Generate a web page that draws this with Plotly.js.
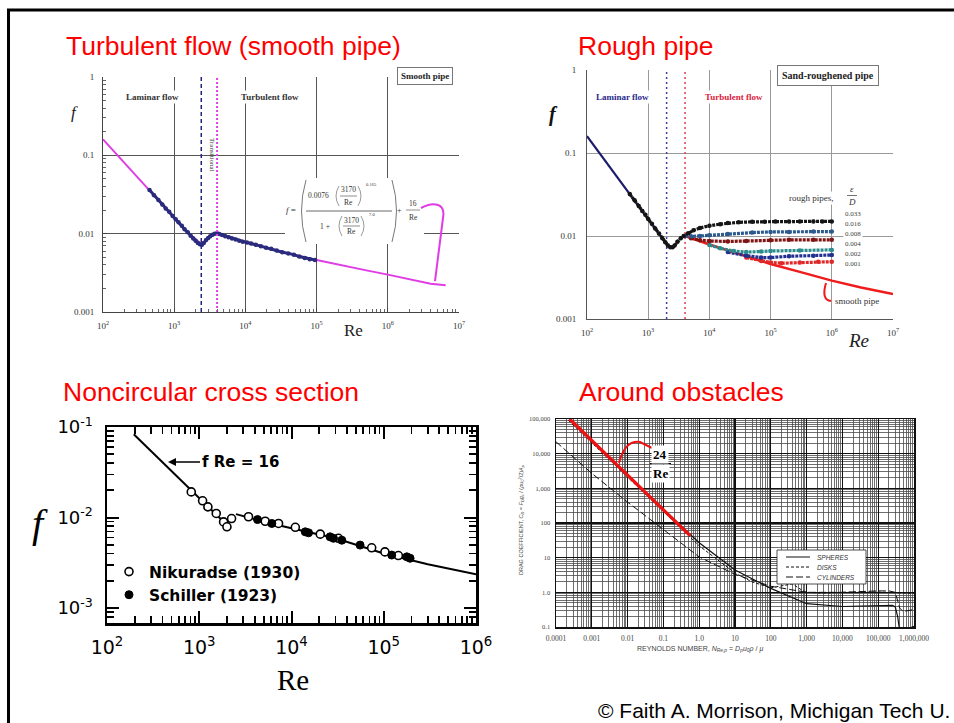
<!DOCTYPE html>
<html><head><meta charset="utf-8">
<script src="https://cdn.plot.ly/plotly-3.0.1.min.js"></script>
<style>html,body{margin:0;padding:0;background:#fff}#chart{width:954px;height:723px}</style>
</head><body><div id="chart"></div>
<script>
const W = 954, H = 723;
const px = x => x / W;
const py = y => 1 - y / H;

// ---------- Panel 1: Turbulent flow (smooth pipe) ----------
const p1CurveRe = [100,200,500,1000,1500,2000,2300,2500,2800,3200,3600,4000,5000,7000,10000,20000,50000,100000,200000,500000,1000000,2000000,4000000,6500000];
const p1CurveF  = [0.16,0.08,0.032,0.016,0.0107,0.0085,0.0076,0.0075,0.0082,0.0093,0.0099,0.0100,0.0094,0.0085,0.0078,0.0066,0.0053,0.0046,0.0040,0.0034,0.0030,0.0026,0.0023,0.0022];
const p1DataRe = [450,520,600,680,760,850,950,1050,1150,1280,1400,1550,1700,1850,2000,2150,2300,2450,2600,2800,3000,3200,3450,3700,4000,4300,4700,5200,5800,6500,7300,8200,9200,10500,12000,14000,16500,19500,23000,27500,33000,40000,48000,57000,68000,80000,95000];
const p1DataF  = [0.036,0.031,0.027,0.0235,0.021,0.019,0.0168,0.0153,0.014,0.0126,0.0114,0.0104,0.0094,0.0087,0.0081,0.0076,0.0073,0.0072,0.0076,0.0083,0.0088,0.0093,0.0097,0.0100,0.0101,0.0099,0.0096,0.0093,0.0090,0.0087,0.0084,0.0081,0.0079,0.0077,0.0075,0.0072,0.0069,0.0066,0.0064,0.0061,0.0058,0.0056,0.0054,0.0051,0.0049,0.0047,0.0046];
const p1TransitionRe = [2400, 4000];
const p1XTickVals = [1e2,1e3,1e4,1e5,1e6,1e7];
const p1XTickText = ['10<sup>2</sup>','10<sup>3</sup>','10<sup>4</sup>','10<sup>5</sup>','10<sup>6</sup>','10<sup>7</sup>'];
const p1YTickVals = [0.001,0.01,0.1,1];
const p1YTickText = ['0.001','0.01','0.1','1'];

// ---------- Panel 2: Rough pipe ----------
const p2LaminarRe = [100, 2000];
const p2LaminarF  = [0.16, 0.008];
const p2SmoothRe = [4000,10000,30000,100000,300000,1000000,3000000,10000000];
const p2SmoothF  = [0.0100,0.0079,0.0061,0.0046,0.0037,0.0029,0.0024,0.0020];
const p2R033Re = [500,600,700,800,900,1000,1150,1300,1500,1700,1900,2100,2300,2500,2700,3000,3400,3800,4500,5500,7000,10000,15000,20000,30000,50000,80000,120000,200000,300000,500000,700000,1000000];
const p2R033F  = [0.032,0.027,0.023,0.020,0.018,0.016,0.014,0.0123,0.0107,0.0094,0.0084,0.0077,0.0073,0.0073,0.0077,0.0085,0.0094,0.0100,0.0108,0.0117,0.0125,0.0133,0.0139,0.0143,0.0146,0.0148,0.0149,0.0150,0.0150,0.0150,0.0150,0.0150,0.0150];
const p2R016Re = [4000,5000,7000,10000,20000,50000,100000,200000,500000,1000000];
const p2R016F  = [0.0100,0.0099,0.0100,0.0102,0.0106,0.0110,0.0112,0.0112,0.0113,0.0113];
const p2R008Re = [5000,7000,10000,20000,40000,100000,200000,500000,1000000];
const p2R008F  = [0.0094,0.0089,0.0087,0.0086,0.0087,0.0089,0.0090,0.0090,0.0090];
const p2R004Re = [10000,15000,25000,40000,70000,100000,300000,1000000];
const p2R004F  = [0.0078,0.0071,0.0066,0.0064,0.0065,0.0066,0.0067,0.0068];
const p2R002Re = [20000,40000,70000,100000,200000,500000,1000000];
const p2R002F  = [0.0064,0.0058,0.0055,0.0055,0.0057,0.0058,0.0059];
const p2R001Re = [40000,70000,100000,150000,300000,600000,1000000];
const p2R001F  = [0.0055,0.0050,0.0048,0.0047,0.0048,0.0049,0.0049];
const p2TransitionRe = [2000, 4000];
const p2RoughLabels = ['0.033','0.016','0.008','0.004','0.002','0.001'];

// ---------- Panel 3: Noncircular cross section ----------
const p3LaminarRe = [195, 2200];
const p3LaminarF  = [0.083, 0.0075];
const p3TurbRe = [2500,5000,10000,30000,100000,300000,1000000];
const p3TurbF  = [0.0109,0.0090,0.0076,0.0059,0.0040,0.00305,0.00236];
const p3NikRe = [819,1087,1241,1528,1835,1995,2240,3420,5190,7240,11000,20500,32300,74000,103000,144000];
const p3NikF  = [0.0192,0.0153,0.0131,0.0111,0.00895,0.0079,0.00975,0.0102,0.0091,0.0086,0.0078,0.00655,0.0059,0.00463,0.00417,0.0038];
const p3SchRe = [4280,6120,14100,15300,26200,28500,35100,55400,122000,178000,193000];
const p3SchF  = [0.0095,0.0086,0.00695,0.00678,0.00612,0.0059,0.00562,0.00496,0.00385,0.00368,0.00355];
const p3XTickVals = [1e2,1e3,1e4,1e5,1e6];
const p3XTickText = ['10<sup>2</sup>','10<sup>3</sup>','10<sup>4</sup>','10<sup>5</sup>','10<sup>6</sup>'];
const p3YTickVals = [1e-3,1e-2,1e-1];
const p3YTickText = ['10<sup>-3</sup>','10<sup>-2</sup>','10<sup>-1</sup>'];

// ---------- Panel 4: Around obstacles ----------
const p4SphereRe = [0.00024,0.001,0.01,0.1,1,10,100,1000,10000,100000,250000,300000,350000,400000,500000,700000,1000000];
const p4SphereCd = [100000,24000,2400,245,27,4.4,1.3,0.47,0.39,0.42,0.42,0.38,0.2,0.075,0.075,0.09,0.105];
const p4DiskRe = [0.00022,0.001,0.01,0.1,1,10,30,100,200,400,700,1000,3000,10000,100000,300000,1000000];
const p4DiskCd = [92000,20400,2040,205,22,3.6,2.0,1.35,1.5,1.75,1.2,1.0,0.95,1.0,1.02,0.98,0.93];
const p4CylRe = [0.0001,0.001,0.01,0.1,1,10,100,1000,10000,100000,200000,300000,400000,500000,1000000];
const p4CylCd = [22000,2700,400,65,10.5,3.3,1.5,1.0,1.0,1.1,1.1,1.0,0.35,0.28,0.32];
const p4LimitRe = [0.00024,0.556];
const p4LimitCd = [100000,43];
const p4XTickVals = [1e-4,1e-3,1e-2,1e-1,1,10,100,1000,1e4,1e5,1e6];
const p4XTickText = ['0.0001','0.001','0.01','0.1','1.0','10','100','1,000','10,000','100,000','1,000,000'];
const p4YTickVals = [0.1,1,10,100,1000,1e4,1e5];
const p4YTickText = ['0.1','1.0','10','100','1,000','10,000','100,000'];

function minorVals(lo, hi){const v=[];for(let e=lo;e<hi;e++)for(let d=2;d<=9;d++)v.push(d*Math.pow(10,e));return v;}

const serif = 'Liberation Serif, Times New Roman, serif';
const sans = 'Liberation Sans, Arial, sans-serif';

const traces = [];
const L = (o) => Object.assign({showlegend:false, hoverinfo:'skip'}, o);

// panel 1
traces.push(L({x:p1CurveRe, y:p1CurveF, xaxis:'x', yaxis:'y', mode:'lines', line:{color:'#e03ce6', width:2}}));
traces.push(L({x:p1DataRe, y:p1DataF, xaxis:'x', yaxis:'y', mode:'lines+markers', line:{color:'#2b2b7e', width:3}, marker:{color:'#2b2b7e', size:4.5}}));
traces.push(L({x:[p1TransitionRe[0],p1TransitionRe[0]], y:[p1YTickVals[0],p1YTickVals[3]], xaxis:'x', yaxis:'y', mode:'lines', line:{color:'#23237e', width:1.5, dash:'4px,3px'}}));
traces.push(L({x:[p1TransitionRe[1],p1TransitionRe[1]], y:[p1YTickVals[0],p1YTickVals[3]], xaxis:'x', yaxis:'y', mode:'lines', line:{color:'#e040e6', width:2, dash:'2px,2px'}}));

// panel 2
traces.push(L({x:[p2TransitionRe[0],p2TransitionRe[0]], y:[0.001,1], xaxis:'x2', yaxis:'y2', mode:'lines', line:{color:'#4040a0', width:1.5, dash:'2px,3px'}}));
traces.push(L({x:[p2TransitionRe[1],p2TransitionRe[1]], y:[0.001,1], xaxis:'x2', yaxis:'y2', mode:'lines', line:{color:'#e04050', width:1.5, dash:'2px,3px'}}));
traces.push(L({x:p2LaminarRe, y:p2LaminarF, xaxis:'x2', yaxis:'y2', mode:'lines', line:{color:'#1c1c6a', width:2.2}}));
traces.push(L({x:p2SmoothRe, y:p2SmoothF, xaxis:'x2', yaxis:'y2', mode:'lines', line:{color:'#ee1c1c', width:2.5}}));
const roughSets = [[p2R001Re,p2R001F,'#e02828'],[p2R002Re,p2R002F,'#22308e'],[p2R004Re,p2R004F,'#2a8c8c'],[p2R008Re,p2R008F,'#7e1414'],[p2R016Re,p2R016F,'#2d5a8e'],[p2R033Re,p2R033F,'#151515']];
roughSets.forEach(s => traces.push(L({x:s[0], y:s[1], xaxis:'x2', yaxis:'y2', mode:'lines+markers', line:{color:s[2], width:3.2, dash:'3px,1px'}, marker:{color:s[2], size:4.5, symbol:'circle'}})));

// panel 3
traces.push(L({x:p3LaminarRe, y:p3LaminarF, xaxis:'x3', yaxis:'y3', mode:'lines', line:{color:'#000', width:2}}));
traces.push(L({x:p3TurbRe, y:p3TurbF, xaxis:'x3', yaxis:'y3', mode:'lines', line:{color:'#000', width:2}}));
traces.push({x:p3NikRe, y:p3NikF, xaxis:'x3', yaxis:'y3', mode:'markers', name:'Nikuradse (1930)', showlegend:true, hoverinfo:'skip', marker:{symbol:'circle', size:8, color:'#fff', line:{color:'#000', width:1.6}}});
traces.push({x:p3SchRe, y:p3SchF, xaxis:'x3', yaxis:'y3', mode:'markers', name:'Schiller (1923)', showlegend:true, hoverinfo:'skip', marker:{symbol:'circle', size:8, color:'#000', line:{color:'#000', width:1}}});

// panel 4
traces.push(L({x:p4CylRe, y:p4CylCd, xaxis:'x4', yaxis:'y4', mode:'lines', line:{color:'#111', width:1, dash:'7px,3px'}}));
traces.push(L({x:p4DiskRe, y:p4DiskCd, xaxis:'x4', yaxis:'y4', mode:'lines', line:{color:'#111', width:1, dash:'3px,2px'}}));
traces.push(L({x:p4SphereRe, y:p4SphereCd, xaxis:'x4', yaxis:'y4', mode:'lines', line:{color:'#111', width:1.2}}));
traces.push(L({x:p4LimitRe, y:p4LimitCd, xaxis:'x4', yaxis:'y4', mode:'lines', line:{color:'#ee1111', width:3.2}}));

const tf = (size, color, family) => ({size:size, color:color||'#333', family:family||serif});

const layout = {
  width: W, height: H,
  margin: {l:0, r:0, t:0, b:0},
  paper_bgcolor: '#fff', plot_bgcolor: '#fff',
  showlegend: true,
  legend: {x:px(109), y:py(555), xanchor:'left', yanchor:'top', bgcolor:'rgba(0,0,0,0)', borderwidth:0,
           font:{family:'DejaVu Sans, Arial', size:15.5, color:'#000', weight:'bold'}, itemwidth:30, tracegroupgap:0, itemclick:false},
  xaxis: {type:'log', domain:[px(103),px(459)], range:[2,7], anchor:'y', tickvals:p1XTickVals, ticktext:p1XTickText,
          showgrid:true, gridcolor:'#555', gridwidth:1, showline:true, linecolor:'#444', linewidth:1, zeroline:false,
          ticks:'inside', ticklen:4, tickcolor:'#444', ticklabelstandoff:5,
          minor:{tickvals:minorVals(2,7), ticks:'inside', ticklen:3, tickcolor:'#666', showgrid:false},
          tickfont:tf(9)},
  yaxis: {type:'log', domain:[py(312),py(77)], range:[-3,0], anchor:'x', tickvals:p1YTickVals, ticktext:p1YTickText,
          showgrid:true, gridcolor:'#555', gridwidth:1, showline:true, linecolor:'#444', linewidth:1, zeroline:false,
          ticks:'inside', ticklen:4, tickcolor:'#444', ticklabelstandoff:6,
          minor:{tickvals:minorVals(-3,0), ticks:'inside', ticklen:3, tickcolor:'#666', showgrid:false},
          tickfont:tf(9)},
  xaxis2: {type:'log', domain:[px(587),px(893)], range:[2,7], anchor:'y2', tickvals:p1XTickVals, ticktext:p1XTickText,
          showgrid:true, gridcolor:'#9a9a9a', gridwidth:1, showline:true, linecolor:'#555', linewidth:1, zeroline:false,
          ticks:'', ticklabelstandoff:5, tickfont:tf(9)},
  yaxis2: {type:'log', domain:[py(319),py(70)], range:[-3,0], anchor:'x2', tickvals:p1YTickVals, ticktext:p1YTickText,
          showgrid:true, gridcolor:'#9a9a9a', gridwidth:1, showline:true, linecolor:'#555', linewidth:1, zeroline:false,
          ticks:'', ticklabelstandoff:8, tickfont:tf(9)},
  xaxis3: {type:'log', domain:[px(107),px(476)], range:[2,6], anchor:'y3', tickvals:p3XTickVals, ticktext:p3XTickText,
          showgrid:false, showline:true, mirror:'allticks', linecolor:'#000', linewidth:2.5, zeroline:false,
          ticks:'inside', ticklen:12, tickwidth:2, tickcolor:'#000', ticklabelstandoff:6,
          minor:{tickvals:minorVals(2,6), ticks:'inside', ticklen:7, tickwidth:1.6, tickcolor:'#000', showgrid:false},
          tickfont:{family:'DejaVu Sans, Arial', size:19, color:'#000'}},
  yaxis3: {type:'log', domain:[py(623),py(427)], range:[-3.165,-1], anchor:'x3', tickvals:p3YTickVals, ticktext:p3YTickText,
          showgrid:false, showline:true, mirror:'allticks', linecolor:'#000', linewidth:2.5, zeroline:false,
          ticks:'inside', ticklen:12, tickwidth:2, tickcolor:'#000', ticklabelstandoff:8,
          minor:{tickvals:minorVals(-4,-1), ticks:'inside', ticklen:7, tickwidth:1.6, tickcolor:'#000', showgrid:false},
          tickfont:{family:'DejaVu Sans, Arial', size:18, color:'#000'}},
  xaxis4: {type:'log', domain:[px(556),px(914)], range:[-4,6], anchor:'y4', tickvals:p4XTickVals, ticktext:p4XTickText,
          showgrid:true, gridcolor:'#111', gridwidth:1.2, showline:true, mirror:true, linecolor:'#111', linewidth:1.5, zeroline:false,
          ticks:'', ticklabelstandoff:3,
          minor:{tickvals:minorVals(-4,6), ticks:'', showgrid:true, gridcolor:'#4a4a4a', gridwidth:0.8},
          tickfont:tf(7.5,'#444')},
  yaxis4: {type:'log', domain:[py(627),py(419)], range:[-1,5], anchor:'x4', tickvals:p4YTickVals, ticktext:p4YTickText,
          showgrid:true, gridcolor:'#111', gridwidth:1.2, showline:true, mirror:true, linecolor:'#111', linewidth:1.5, zeroline:false,
          ticks:'', ticklabelstandoff:3,
          minor:{tickvals:minorVals(-1,5), ticks:'', showgrid:true, gridcolor:'#4a4a4a', gridwidth:0.8},
          tickfont:tf(6.5,'#444')},
  annotations: [],
  shapes: []
};

const A = (text, x, y, o) => layout.annotations.push(Object.assign({text:text, x:px(x), y:py(y), xref:'paper', yref:'paper', showarrow:false, xanchor:'center', yanchor:'middle'}, o||{}));
const P = (pts) => pts.map(p => px(p[0]).toFixed(5)+','+py(p[1]).toFixed(5)).join(' ');
const S = (path, color, width, extra) => layout.shapes.push(Object.assign({type:'path', xref:'paper', yref:'paper', path:path, line:{color:color, width:width}}, extra||{}));
const Ln = (x0,y0,x1,y1,color,width) => layout.shapes.push({type:'line', xref:'paper', yref:'paper', x0:px(x0), y0:py(y0), x1:px(x1), y1:py(y1), line:{color:color, width:width}});

// page frame
layout.shapes.push({type:'rect', xref:'paper', yref:'paper', x0:px(8.5), y0:py(740), x1:px(970), y1:py(10), line:{color:'#000', width:3}, layer:'above'});

// red headings
const red = {family:sans, size:26.5, color:'#ff0000'};
A('Turbulent flow (smooth pipe)', 64, 46, {xanchor:'left', font:red});
A('Rough pipe', 576, 46, {xanchor:'left', font:red});
A('Noncircular cross section', 61, 392, {xanchor:'left', font:red});
A('Around obstacles', 577, 392, {xanchor:'left', font:red});
A('© Faith A. Morrison, Michigan Tech U.', 596, 710, {xanchor:'left', font:{family:sans, size:21, color:'#000'}});

// panel 1 texts
A('<i>f</i>', 74, 112, {font:{family:serif, size:17, color:'#222'}});
A('Re', 353, 331, {font:{family:serif, size:17, color:'#222'}});
A('<b>Smooth pipe</b>', 425, 76.5, {font:{family:serif, size:9, color:'#222'}, bgcolor:'#fff', bordercolor:'#777', borderwidth:1, borderpad:3});
A('<b>Laminar flow</b>', 152, 97, {font:{family:serif, size:9, color:'#333'}, bgcolor:'#fff'});
A('<b>Turbulent flow</b>', 270, 97, {font:{family:serif, size:9, color:'#333'}, bgcolor:'#fff'});
A('Transitional', 212, 155, {textangle:90, font:{family:serif, size:7, color:'#333'}});
// formula (white backing, then marks)
layout.shapes.push({type:'rect', xref:'paper', yref:'paper', x0:px(285), x1:px(424), y0:py(244), y1:py(178), fillcolor:'#fff', line:{width:0}});
A('<i>f</i> =', 291, 210, {font:{family:serif, size:9, color:'#333'}});
A('0.0076', 318, 196, {font:{family:serif, size:7.5, color:'#333'}});
A('3170', 348, 190, {font:{family:serif, size:7.5, color:'#333'}});
A('Re', 348, 202, {font:{family:serif, size:7.5, color:'#333'}});
A('0.165', 371, 184, {font:{family:serif, size:4.5, color:'#333'}});
A('1 +', 325, 226, {font:{family:serif, size:7.5, color:'#333'}});
A('3170', 351, 220, {font:{family:serif, size:7.5, color:'#333'}});
A('Re', 351, 232, {font:{family:serif, size:7.5, color:'#333'}});
A('7.0', 372, 214, {font:{family:serif, size:4.5, color:'#333'}});
A('+', 399, 210, {font:{family:serif, size:8, color:'#333'}});
A('16', 413, 203, {font:{family:serif, size:7.5, color:'#333'}});
A('Re', 413, 217, {font:{family:serif, size:7.5, color:'#333'}});
Ln(306,211,392,211,'#444',0.8);
Ln(340,196,357,196,'#444',0.6);
Ln(343,226,360,226,'#444',0.6);
Ln(406,210,420,210,'#444',0.6);
S('M '+P([[306,180]])+' Q '+P([[297,211],[306,242]]), '#555', 0.8);
S('M '+P([[392,180]])+' Q '+P([[401,211],[392,242]]), '#555', 0.8);
S('M '+P([[339,186]])+' Q '+P([[333,196],[339,206]]), '#555', 0.6);
S('M '+P([[358,186]])+' Q '+P([[364,196],[358,206]]), '#555', 0.6);
S('M '+P([[342,216]])+' Q '+P([[336,226],[342,236]]), '#555', 0.6);
S('M '+P([[361,216]])+' Q '+P([[367,226],[361,236]]), '#555', 0.6);
S('M '+P([[421,208]])+' C '+P([[432,202],[446,202],[443,218]])+' L '+P([[435,281]]), '#e03ce6', 2);

// panel 2 texts
A('<b><i>f</i></b>', 553, 115, {font:{family:serif, size:20, color:'#111'}});
A('<i>Re</i>', 858, 340, {font:{family:serif, size:19, color:'#222'}});
A('<b>Sand-roughened pipe</b>', 828, 76, {font:{family:serif, size:10, color:'#222'}, bgcolor:'#fff', bordercolor:'#777', borderwidth:1, borderpad:4});
A('<b>Laminar flow</b>', 622, 97, {font:{family:serif, size:9, color:'#2a2a8a'}, bgcolor:'#fff'});
A('<b>Turbulent flow</b>', 734, 97, {font:{family:serif, size:9, color:'#dd2040'}, bgcolor:'#fff'});
A('rough pipes,', 811, 198, {font:{family:serif, size:9, color:'#333'}, bgcolor:'#fff'});
A('<i>ε</i>', 852, 189, {font:{family:serif, size:9, color:'#333'}});
A('<i>D</i>', 852, 202, {font:{family:serif, size:9, color:'#333'}});
Ln(847,195.5,857,195.5,'#333',0.7);
p2RoughLabels.forEach((t,i) => A(t, 853, 214 + i*10, {font:{family:serif, size:7, color:'#444'}, bgcolor:'#fff'}));
A('smooth pipe', 857, 301, {font:{family:serif, size:9, color:'#333'}});
S('M '+P([[826,283]])+' Q '+P([[821,300],[831,301]]), '#ee1c1c', 2);

// panel 3 texts
A('<i>f</i>', 40, 523, {font:{family:serif, size:40, color:'#000'}});
A('Re', 293, 680, {font:{family:serif, size:29, color:'#000'}});
layout.annotations.push({text:'<b>f Re = 16</b>', x:px(168), y:py(462), xref:'paper', yref:'paper', showarrow:true, ax:72, ay:0, arrowhead:2, arrowsize:1, arrowwidth:1.6, arrowcolor:'#000', standoff:0, font:{family:'DejaVu Sans, Arial', size:15, color:'#000'}});

// panel 4 texts
A('DRAG COEFFICIENT, <i>C<sub>D</sub></i> = <i>F<sub>D</sub>g<sub>c</sub></i> / (<i>ρu<sub>0</sub><sup>2</sup></i>/2)<i>A<sub>p</sub></i>', 521, 520, {textangle:-90, font:{family:sans, size:5.5, color:'#444'}});
A('REYNOLDS NUMBER, <i>N<sub>Re,p</sub></i> = <i>D<sub>p</sub>u<sub>0</sub>ρ</i> / <i>μ</i>', 700, 649, {font:{family:sans, size:7, color:'#444'}});
A('<b>24</b>', 660, 454, {font:{family:serif, size:13, color:'#000'}, bgcolor:'#fff'});
A('<b>Re</b>', 660, 473, {font:{family:serif, size:13, color:'#000'}, bgcolor:'#fff'});
Ln(650,463.5,671,463.5,'#000',1);
S('M '+P([[619,463]])+' Q '+P([[625,440],[640,442]])+' L '+P([[652,448]]), '#ee1111', 2);
// panel 4 key
layout.shapes.push({type:'rect', xref:'paper', yref:'paper', x0:px(777), y0:py(584), x1:px(866), y1:py(550), fillcolor:'#fff', line:{color:'#222', width:0.8}});
layout.shapes.push({type:'line', xref:'paper', yref:'paper', x0:px(786), x1:px(810), y0:py(557), y1:py(557), line:{color:'#111', width:1}});
layout.shapes.push({type:'line', xref:'paper', yref:'paper', x0:px(786), x1:px(810), y0:py(567), y1:py(567), line:{color:'#111', width:1, dash:'3px,2px'}});
layout.shapes.push({type:'line', xref:'paper', yref:'paper', x0:px(786), x1:px(810), y0:py(577), y1:py(577), line:{color:'#111', width:1, dash:'7px,3px'}});
A('SPHERES', 815, 557, {xanchor:'left', font:{family:sans, size:6.5, color:'#333', style:'italic'}});
A('DISKS', 815, 567, {xanchor:'left', font:{family:sans, size:6.5, color:'#333', style:'italic'}});
A('CYLINDERS', 815, 577, {xanchor:'left', font:{family:sans, size:6.5, color:'#333', style:'italic'}});

Plotly.newPlot('chart', traces, layout, {staticPlot:true, displayModeBar:false});
</script>
</body></html>
